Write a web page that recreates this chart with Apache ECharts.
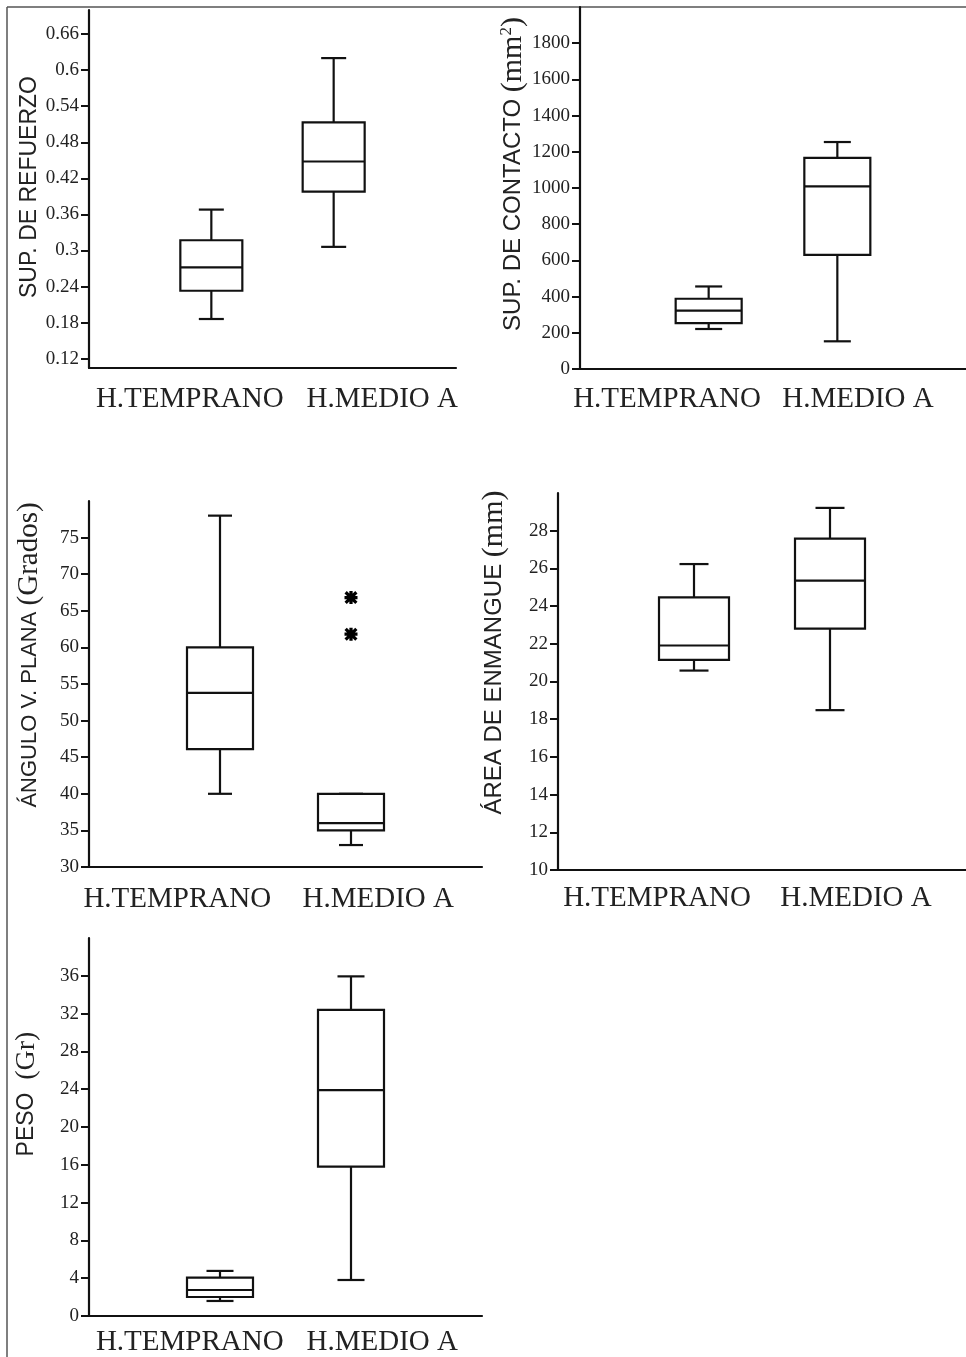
<!DOCTYPE html>
<html><head><meta charset="utf-8">
<script src="https://cdn.jsdelivr.net/npm/echarts@6/dist/echarts.min.js"></script>
<style>html,body{margin:0;padding:0;background:#fff}#c{width:966px;height:1357px}</style>
</head><body><div id="c"></div>
<script>
// ---------------- data ----------------
const groups = ['H.TEMPRANO', 'H.MEDIO A'];
// each row: [min, Q1, median, Q3, max]
const refuerzoBox = [[0.186, 0.233, 0.272, 0.317, 0.368], [0.306, 0.398, 0.448, 0.513, 0.620]];
const contactoBox = [[221, 254, 322, 388, 456], [153, 631, 1009, 1166, 1254]];
const anguloBox   = [[40, 46.1, 53.8, 60, 78], [33, 35, 36, 40, 40]];
const anguloOutliersMedio = [66.8, 61.8];
const enmangueBox = [[20.58, 21.15, 21.91, 24.46, 26.23], [18.48, 22.8, 25.35, 27.58, 29.21]];
const pesoBox     = [[1.59, 2.01, 2.75, 4.06, 4.77], [3.81, 15.8, 23.9, 32.4, 35.94]];

const refuerzoTicks = [0.12, 0.18, 0.24, 0.3, 0.36, 0.42, 0.48, 0.54, 0.6, 0.66];
const contactoTicks = [0, 200, 400, 600, 800, 1000, 1200, 1400, 1600, 1800];
const anguloTicks   = [30, 35, 40, 45, 50, 55, 60, 65, 70, 75];
const enmangueTicks = [10, 12, 14, 16, 18, 20, 22, 24, 26, 28];
const pesoTicks     = [0, 4, 8, 12, 16, 20, 24, 28, 32, 36];

const refuerzoTitle = ['SUP. DE REFUERZO', ''];
const contactoTitle = ['SUP. DE CONTACTO ', '(mm', '2', ')'];
const anguloTitle   = ['ÁNGULO V. PLANA ', '(Grados)'];
const enmangueTitle = ['ÁREA DE ENMANGUE ', '(mm)'];
const pesoTitle     = ['PESO  ', '(Gr)'];

// ---------------- layout / style ----------------
const SANS = 'Liberation Sans', SERIF = 'Liberation Serif';
const INK = '#111', TXT = '#222';

const panels = [
  { box: refuerzoBox, ticks: refuerzoTicks, min: 0.1045, max: 0.7, title: refuerzoTitle,
    grid: { left: 89, top: 10, width: 367, height: 358 }, boxW: 62, capW: 25,
    sans: 23, serif: 29, nameGap: 48, nameShift: 2, labShift: [9, 18], labMargin: 17 },
  { box: contactoBox, ticks: contactoTicks, min: 0, max: 2000, title: contactoTitle,
    grid: { left: 580, top: 7, width: 390, height: 362 }, boxW: 66, capW: 27,
    sans: 24, serif: 30, nameGap: 48, nameShift: 14, labShift: [-9.5, -11.5], labMargin: 16 },
  { box: anguloBox, ticks: anguloTicks, min: 30, max: 80, title: anguloTitle,
    grid: { left: 89, top: 501, width: 393, height: 366 }, boxW: 66, capW: 24,
    sans: 22, serif: 29, nameGap: 45, nameShift: 29, labShift: [-10, -5.5], labMargin: 18,
    outliers: anguloOutliersMedio },
  { box: enmangueBox, ticks: enmangueTicks, min: 10, max: 30, title: enmangueTitle,
    grid: { left: 558, top: 493, width: 412, height: 377 }, boxW: 70, capW: 29,
    sans: 24, serif: 30, nameGap: 49, nameShift: 29, labShift: [-3, -8], labMargin: 14 },
  { box: pesoBox, ticks: pesoTicks, min: 0, max: 40, title: pesoTitle,
    grid: { left: 89, top: 938, width: 393, height: 378 }, boxW: 66, capW: 27,
    sans: 23, serif: 28, nameGap: 48, nameShift: 33, labShift: [2.5, -1.5], labMargin: 12 }
];

function makeRender(boxW, capW) {
  return function (params, api) {
    const x = api.value(0);
    const pMin = api.coord([x, api.value(1)]);
    const pQ1 = api.coord([x, api.value(2)]);
    const pMed = api.coord([x, api.value(3)]);
    const pQ3 = api.coord([x, api.value(4)]);
    const pMax = api.coord([x, api.value(5)]);
    const cx = pMin[0];
    const st = { stroke: INK, lineWidth: 2.2, fill: null };
    return {
      type: 'group',
      children: [
        { type: 'line', shape: { x1: cx, y1: pMax[1], x2: cx, y2: pQ3[1] }, style: st },
        { type: 'line', shape: { x1: cx, y1: pQ1[1], x2: cx, y2: pMin[1] }, style: st },
        { type: 'line', shape: { x1: cx - capW / 2, y1: pMax[1], x2: cx + capW / 2, y2: pMax[1] }, style: st },
        { type: 'line', shape: { x1: cx - capW / 2, y1: pMin[1], x2: cx + capW / 2, y2: pMin[1] }, style: st },
        { type: 'rect', shape: { x: cx - boxW / 2, y: pQ3[1], width: boxW, height: pQ1[1] - pQ3[1] },
          style: { stroke: INK, lineWidth: 2.2, fill: '#fff' } },
        { type: 'line', shape: { x1: cx - boxW / 2, y1: pMed[1], x2: cx + boxW / 2, y2: pMed[1] }, style: st }
      ]
    };
  };
}

function titleRich(t) {
  let s = '{s|' + t[0] + '}';
  if (t[1]) s += '{t|' + t[1] + '}';
  if (t[2]) s += '{sup|' + t[2] + '}';
  if (t[3]) s += '{t|' + t[3] + '}';
  return s;
}
function shiftPad(d) { return d >= 0 ? [0, 0, 0, 2 * d] : [0, -2 * d, 0, 0]; }

const ASTERISK = 'path://M4.5,0 L7.5,0 L7.5,12 L4.5,12 Z M0,4.5 L12,4.5 L12,7.5 L0,7.5 Z ' +
  'M0,2.1 L2.1,0 L12,9.9 L9.9,12 Z M9.9,0 L12,2.1 L2.1,12 L0,9.9 Z';

const option = {
  backgroundColor: '#fff',
  animation: false,
  grid: [], xAxis: [], yAxis: [], series: [],
  graphic: [
    { type: 'line', shape: { x1: 7, y1: 7, x2: 966, y2: 7 }, style: { stroke: '#555', lineWidth: 1.5 } },
    { type: 'line', shape: { x1: 7, y1: 7, x2: 7, y2: 1357 }, style: { stroke: '#555', lineWidth: 1.5 } }
  ]
};

panels.forEach((p, i) => {
  option.grid.push(Object.assign({ containLabel: false }, p.grid));
  // positional axis for the boxes
  option.xAxis.push({
    type: 'category', gridIndex: i, data: ['', ...groups, ''], boundaryGap: false,
    axisLine: { show: true, onZero: false, lineStyle: { color: INK, width: 2.2 } },
    axisTick: { show: false }, axisLabel: { show: false }, splitLine: { show: false }
  });
  // label axis for the group names
  option.xAxis.push({
    type: 'category', gridIndex: i, data: groups, boundaryGap: true, position: 'bottom',
    axisLine: { show: false }, axisTick: { show: false }, splitLine: { show: false },
    axisLabel: {
      show: true, interval: 0, hideOverlap: false, margin: p.labMargin,
      formatter: (v, k) => '{g' + k + '|' + v + '}',
      rich: {
        g0: { fontFamily: SERIF, fontSize: 29, color: TXT, padding: shiftPad(p.labShift[0]) },
        g1: { fontFamily: SERIF, fontSize: 29, color: TXT, padding: shiftPad(p.labShift[1]) }
      }
    }
  });
  option.yAxis.push({
    type: 'value', gridIndex: i, min: p.min, max: p.max,
    name: titleRich(p.title), nameLocation: 'middle', nameGap: p.nameGap,
    nameTextStyle: {
      padding: [0, 0, 0, 2 * p.nameShift],
      rich: {
        s: { fontFamily: SANS, fontSize: p.sans, color: TXT },
        t: { fontFamily: SERIF, fontSize: p.serif, color: TXT },
        sup: { fontFamily: SERIF, fontSize: 17, color: TXT, verticalAlign: 'top' }
      }
    },
    axisLine: { show: true, onZero: false, lineStyle: { color: INK, width: 2.2 } },
    axisTick: { show: true, length: 8, customValues: p.ticks, lineStyle: { color: INK, width: 2 } },
    axisLabel: { show: true, customValues: p.ticks, margin: 10, fontFamily: SERIF, fontSize: 19, color: TXT,
      formatter: v => String(v) },
    splitLine: { show: false }
  });
  option.series.push({
    type: 'custom', xAxisIndex: 2 * i, yAxisIndex: i,
    renderItem: makeRender(p.boxW, p.capW),
    encode: { x: 0, y: [1, 2, 3, 4, 5] },
    data: p.box.map((row, k) => [k + 1, ...row]),
    z: 3
  });
  if (p.outliers) {
    option.series.push({
      type: 'scatter', xAxisIndex: 2 * i, yAxisIndex: i,
      symbol: ASTERISK, symbolSize: 13,
      itemStyle: { color: '#000', opacity: 1 },
      data: p.outliers.map(v => [2, v]), z: 4
    });
  }
});

const chart = echarts.init(document.getElementById('c'), null, { renderer: 'canvas' });
chart.setOption(option);
</script>
</body></html>
